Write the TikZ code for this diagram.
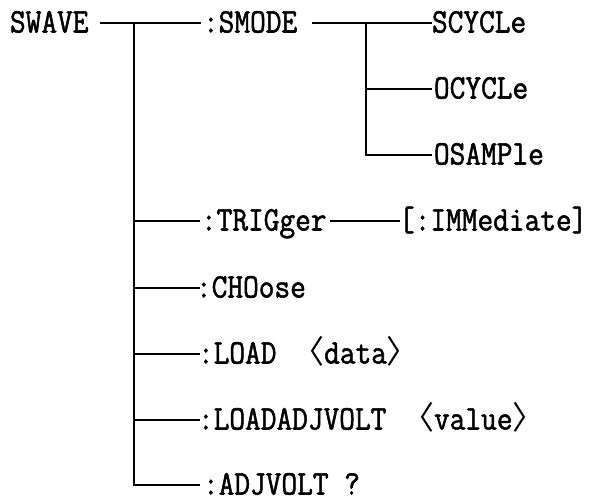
\documentclass[tikz,border=0pt]{standalone}
\usepackage{fontspec}
\newfontfamily\cmdfont[FakeStretch=0.886,FakeBold=1.5]{Latin Modern Mono}
\newfontfamily\cjkfont{Noto Sans CJK SC}
\newcommand{\lab}{{\fontsize{32bp}{36bp}\cjkfont 〈}}
\newcommand{\rab}{{\fontsize{32bp}{36bp}\cjkfont 〉}}
\begin{document}
\begin{tikzpicture}[x=1bp,y=-1bp,line width=2bp,
  cmd/.style={inner sep=0pt,anchor=west,text height=19bp,text depth=0pt,
    font=\cmdfont\fontsize{34.4bp}{38bp}\selectfont}]
\useasboundingbox (0,0) rectangle (595,500);
\node[cmd] (swave)   at (9,23)   {SWAVE};
\node[cmd] (smode)   at (202,23) {:SMODE};
\node[cmd] (scycle)  at (431,23) {SCYCLe};
\node[cmd] (ocycle)  at (433,89)   {OCYCLe};
\node[cmd] (osample) at (433,155)  {OSAMPle};
\node[cmd] (trigger) at (200,221)  {:TRIGger};
\node[cmd] (immed)   at (398,221)  {[:IMMediate]};
\node[cmd] (choose)  at (195,288){:CHOose};
\node[cmd] (load)    at (197,354)  {:LOAD \lab data\rab};
\node[cmd] (loadadj) at (197,420)  {:LOADADJVOLT \lab value\rab};
\node[cmd] (adjvolt) at (202,485)  {:ADJVOLT ?};
\coordinate (t) at (134,23);
\coordinate (s) at (366,23);
% main line
\draw ([xshift=11]swave.east) -- ([xshift=-1]smode.west);
\draw (t) -- (t |- adjvolt.west) -- ([xshift=-2]adjvolt.west);
\draw (t |- trigger.west) -- (trigger.west);
\draw (t |- choose.west) -- ([xshift=5]choose.west);
\draw (t |- load.west) -- ([xshift=3]load.west);
\draw (t |- loadadj.west) -- ([xshift=3]loadadj.west);
% SMODE branch
\draw ([xshift=14]smode.east) -- ([xshift=1]scycle.west);
\draw (s) -- (s |- osample.west) -- ([xshift=-1]osample.west);
\draw (s |- ocycle.west) -- ([xshift=-1]ocycle.west);
% TRIGger branch
\draw ([xshift=2]trigger.east) -- ([xshift=2]immed.west);
\end{tikzpicture}
\end{document}
